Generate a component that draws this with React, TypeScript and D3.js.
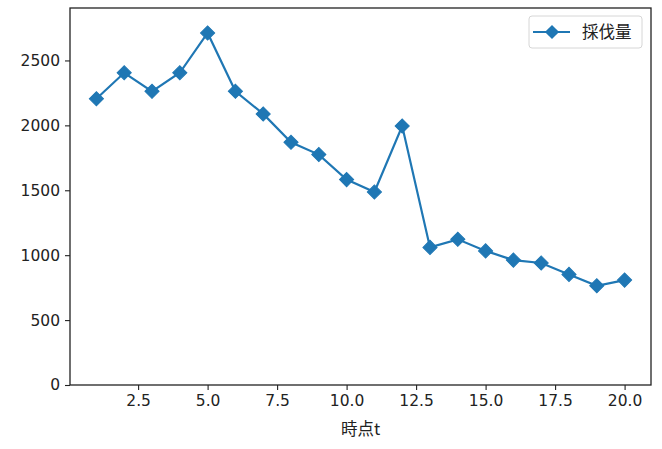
import { useEffect, useRef } from "react";
import * as d3 from "d3";

const timePoints = [1, 2, 3, 4, 5, 6, 7, 8, 9, 10, 11, 12, 13, 14, 15, 16, 17, 18, 19, 20];
const harvest = [2205, 2405, 2262, 2405, 2712, 2262, 2088, 1870, 1775, 1582, 1487, 1995, 1060, 1122, 1033, 962, 940, 852, 764, 808];
const xTicks = [2.5, 5.0, 7.5, 10.0, 12.5, 15.0, 17.5, 20.0];
const yTicks = [0, 500, 1000, 1500, 2000, 2500];
const seriesName = "採伐量";
const xLabel = "時点t";

const WIDTH = 662;
const HEIGHT = 449;
const COLOR = "#1f77b4";
const FONT = "'DejaVu Sans', 'Noto Sans CJK JP', sans-serif";
const CJK_FONT = "'Noto Sans CJK JP', 'DejaVu Sans', sans-serif";

export default function App() {
  const svgRef = useRef<SVGSVGElement | null>(null);

  useEffect(() => {
    if (!svgRef.current) return;
    const svg = d3.select(svgRef.current);
    svg.selectAll("*").remove();

    const margin = { top: 8, right: 11, bottom: 64, left: 70 };
    const innerW = WIDTH - margin.left - margin.right;
    const innerH = HEIGHT - margin.top - margin.bottom;

    const x = d3.scaleLinear().domain([0.05, 20.95]).range([0, innerW]);
    const y = d3.scaleLinear().domain([0, 2904]).range([innerH, 0]);

    const g = svg
      .append("g")
      .attr("transform", `translate(${margin.left},${margin.top})`);

    const xAxis = g
      .append("g")
      .attr("transform", `translate(0,${innerH})`)
      .call(
        d3
          .axisBottom(x)
          .tickValues(xTicks)
          .tickFormat((d) => d3.format(".1f")(Number(d)))
          .tickSize(5)
          .tickPadding(5)
      );
    xAxis.select(".domain").remove();

    const yAxis = g
      .append("g")
      .call(
        d3
          .axisLeft(y)
          .tickValues(yTicks)
          .tickFormat((d) => String(d))
          .tickSize(5)
          .tickPadding(5)
      );
    yAxis.select(".domain").remove();

    g.selectAll(".tick line").attr("stroke", "#222").attr("stroke-width", 1.1);
    g.selectAll(".tick text")
      .attr("fill", "#222")
      .style("font-family", FONT)
      .style("font-size", "15.5px");

    // frame
    g.append("rect")
      .attr("x", 0)
      .attr("y", 0)
      .attr("width", innerW)
      .attr("height", innerH)
      .attr("fill", "none")
      .attr("stroke", "#222")
      .attr("stroke-width", 1.3);

    g.append("text")
      .attr("x", innerW / 2)
      .attr("y", innerH + 50)
      .attr("text-anchor", "middle")
      .attr("fill", "#222")
      .style("font-family", CJK_FONT)
      .style("font-size", "16.5px")
      .text(xLabel);

    const line = d3
      .line<number>()
      .x((_d, i) => x(timePoints[i]))
      .y((d) => y(d));

    g.append("path")
      .datum(harvest)
      .attr("d", line)
      .attr("fill", "none")
      .attr("stroke", COLOR)
      .attr("stroke-width", 2.2);

    const diamond = d3.symbol().type(d3.symbolSquare).size(100);

    g.selectAll(".pt")
      .data(harvest)
      .join("path")
      .attr("class", "pt")
      .attr("d", diamond)
      .attr("transform", (d, i) => `translate(${x(timePoints[i])},${y(d)}) rotate(45)`)
      .attr("fill", COLOR)
      .attr("stroke", COLOR)
      .attr("stroke-width", 1);

    // legend
    const legend = svg.append("g").attr("transform", "translate(529,16)");
    legend
      .append("rect")
      .attr("width", 113)
      .attr("height", 32)
      .attr("rx", 3)
      .attr("fill", "white")
      .attr("fill-opacity", 0.8)
      .attr("stroke", "#d6d6d6");
    legend
      .append("line")
      .attr("x1", 4)
      .attr("x2", 41)
      .attr("y1", 16)
      .attr("y2", 16)
      .attr("stroke", COLOR)
      .attr("stroke-width", 2.2);
    legend
      .append("path")
      .attr("d", diamond)
      .attr("transform", "translate(23,16) rotate(45)")
      .attr("fill", COLOR);
    legend
      .append("text")
      .attr("x", 53)
      .attr("y", 22)
      .attr("fill", "#222")
      .style("font-family", CJK_FONT)
      .style("font-size", "16.5px")
      .text(seriesName);
  }, []);

  return (
    <svg
      ref={svgRef}
      width={WIDTH}
      height={HEIGHT}
      style={{ position: "absolute", left: 0, top: 0, background: "white" }}
    />
  );
}
